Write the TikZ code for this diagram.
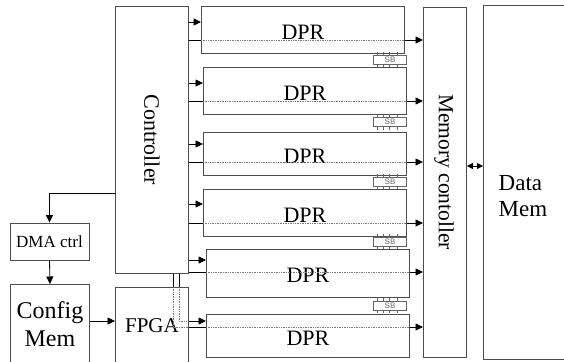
\documentclass[tikz,border=0pt]{standalone}
\usepackage{fontspec}
\setmainfont{Liberation Serif}
\setsansfont{Liberation Sans}
\usetikzlibrary{positioning,arrows.meta,calc}
\definecolor{boxGray}{HTML}{4D4D4D}
\definecolor{dotGray}{HTML}{7A7A7A}
\definecolor{pinGray}{HTML}{666666}

\begin{document}
\begin{tikzpicture}[x=1pt, y=-1pt, >={Triangle[length=7.5pt,width=7pt]},
          blk/.style={draw=boxGray, line width=0.9pt, inner sep=0pt},
          dpr/.style={blk, anchor=north west, minimum width=203pt, text height=19pt, font=\fontsize{22}{24}\selectfont},
          sbox/.style={draw=pinGray, line width=0.6pt, minimum width=33pt, minimum height=9pt, inner sep=0pt, text=pinGray, font=\sffamily\fontsize{8}{8}\selectfont},
          pin/.style={draw=pinGray, line width=0.6pt},
          wire/.style={line width=0.8pt},
          dotwire/.style={dotGray, densely dotted, line width=0.7pt}]
        \useasboundingbox (0,0) rectangle (564,361);
        % left column
        \node[blk, anchor=north west, minimum width=73pt, minimum height=267pt] (ctrl) at (115,6) {};
        \node[rotate=-90, font=\fontsize{22}{24}\selectfont] (ctrltxt) at (ctrl.center) {Controller};
        \node[blk, minimum width=79pt, minimum height=37pt, font=\fontsize{17}{19}\selectfont] (dma) at (49.5,241.5) {DMA ctrl};
        \node[blk, anchor=north west, minimum width=79pt, minimum height=80pt, align=center, font=\fontsize{24}{28}\selectfont] (cfg) at (10,284) {Config\\Mem};
        \node[blk, anchor=north west, minimum width=73pt, minimum height=76pt, font=\fontsize{21}{24}\selectfont] (fpga) at (115,287) {FPGA};
        % right column
        \node[blk, anchor=north west, minimum width=43pt, minimum height=350pt] (mc) at (423,7) {};
        \node[rotate=-90, font=\fontsize{21.5}{24}\selectfont] (mctxt) at (444,172) {Memory contoller};
        \node[anchor=north west, minimum width=81pt, minimum height=354pt, inner sep=0pt] (dm) at (483,5) {};
        \draw[boxGray, line width=0.9pt] (dm.north east) -- (dm.north west) -- (dm.south west) -- (dm.south east);
        \node[align=left, font=\fontsize{23}{26}\selectfont] (dmtxt) at (523,196) {Data\\Mem};
        % DPR stack and switch boxes
        \foreach \i/\x/\t/\h in {1/201/6/47, 2/203/67/47, 3/203/132/43, 4/203/189/47, 5/206/249/48, 6/206/314/43}
          \node[dpr, minimum height=\h pt] (dpr\i) at (\x,\t) {DPR};
        \foreach \j/\y in {1/59.5, 2/122, 3/181.5, 4/241.5, 5/305.5} {
          \node[sbox] (sb\j) at (390,\y) {SB};
          \foreach \dx in {-13,-7,-1,7} {
            \draw[pin] ([xshift=\dx pt]sb\j.north) -- ++(0,-3);
            \draw[pin] ([xshift=\dx pt]sb\j.south) -- ++(0,3);
          }
        }
        % controller -> DPR -> memory controller
        \foreach \i/\a/\b in {1/22/40, 2/83/101, 3/144/162, 4/204/223, 5/260/272} {
          \coordinate (in\i) at (0,\a);
          \coordinate (out\i) at (0,\b);
          \draw[wire, ->] (ctrl.east |- in\i) -- (dpr\i.west |- in\i);
          \draw[wire] (ctrl.east |- out\i) -- (dpr\i.west |- out\i);
          \draw[dotwire] (dpr\i.west |- out\i) -- (dpr\i.east |- out\i);
          \draw[wire, ->] (dpr\i.east |- out\i) -- (mc.west |- out\i);
        }
        % last DPR is fed through the FPGA
        \coordinate (tapA) at (179,0);
        \coordinate (tapB) at (173,0);
        \coordinate (in6) at (0,321);
        \coordinate (out6) at (0,327);
        \draw[wire] (ctrl.south -| tapA) -- (fpga.north -| tapA);
        \draw[dotwire] (fpga.north -| tapA) |- (fpga.east |- in6);
        \draw[wire, ->] (fpga.east |- in6) -- (dpr6.west |- in6);
        \draw[wire] (ctrl.south -| tapB) -- (fpga.north -| tapB);
        \draw[dotwire] (fpga.north -| tapB) |- (fpga.east |- out6);
        \draw[wire] (fpga.east |- out6) -- (dpr6.west |- out6);
        \draw[dotwire] (dpr6.west |- out6) -- (dpr6.east |- out6);
        \draw[wire, ->] (dpr6.east |- out6) -- (mc.west |- out6);
        % configuration path
        \coordinate (dmaTap) at (0,193);
        \coordinate (cfgTap) at (0,321);
        \draw[wire, ->] (ctrl.west |- dmaTap) -| (dma.north);
        \draw[wire, ->] (dma.south) -- (cfg.north);
        \draw[wire, ->] (cfg.east |- cfgTap) -- (fpga.west |- cfgTap);
        % memory side
        \coordinate (dmTap) at (0,166);
        \draw[wire, {Triangle[length=6pt,width=6pt]}-{Triangle[length=6pt,width=6pt]}] (mc.east |- dmTap) -- (dm.west |- dmTap);
      \end{tikzpicture}
\end{document}
